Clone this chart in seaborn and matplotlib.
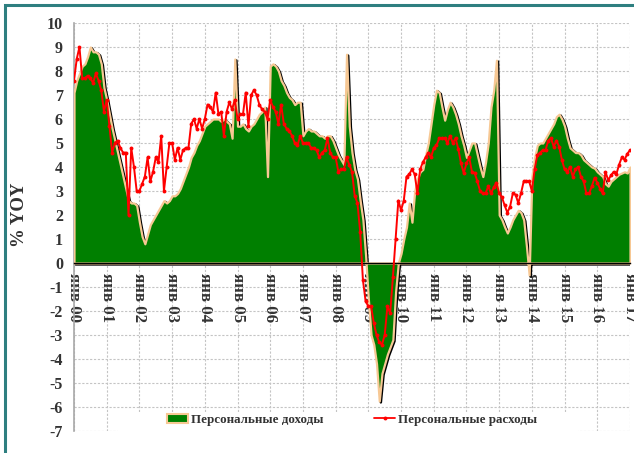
import numpy as np
import pandas as pd
import matplotlib
matplotlib.use("Agg")
import matplotlib.pyplot as plt
import matplotlib.transforms as mtransforms
from matplotlib.patches import Rectangle, Patch
from matplotlib.lines import Line2D
import seaborn as sns

# monthly data, Jan 2000 .. Jan 2017
income = [7.1, 7.6, 7.9, 8.2, 8.3, 8.6, 9.0, 8.8, 8.8, 8.7, 8.3, 7.3,
          6.8, 6.2, 5.6, 5.1, 4.6, 4.1, 3.6, 3.1, 2.6, 2.5, 2.5, 2.4,
          1.7, 1.1, 0.8, 1.2, 1.6, 1.8, 2.0, 2.2, 2.4, 2.6, 2.5, 2.6,
          2.8, 2.8, 2.9, 3.1, 3.4, 3.7, 4.0, 4.4, 4.6, 4.9, 5.1, 5.4,
          5.7, 5.8, 5.9, 6.0, 6.0, 6.0, 5.9, 6.0, 5.9, 5.8, 5.2, 8.5,
          5.7, 5.7, 5.8, 5.6, 5.5, 5.7, 5.8, 6.0, 6.2, 6.3, 6.5, 3.6,
          8.2, 8.3, 8.2, 8.0, 7.6, 7.4, 7.1, 6.9, 6.8, 6.6, 6.7, 6.7,
          5.3, 5.5, 5.6, 5.5, 5.5, 5.4, 5.3, 5.3, 5.2, 5.3, 5.3, 5.1,
          4.8, 4.5, 4.3, 4.1, 8.7, 5.7, 4.6, 3.9, 3.5, 2.6, 1.8, 0.3,
          -1.5, -3.0, -3.4, -4.2, -5.75, -4.6, -4.2, -3.8, -3.5, -3.2, -1.2, 0.0,
          0.4, 1.0, 1.5, 2.5, 1.7, 3.0, 3.5, 3.8, 3.9, 4.5, 5.0, 5.8,
          6.6, 7.2, 7.1, 6.5, 5.95, 6.4, 6.7, 6.5, 6.2, 5.8, 5.3, 4.9,
          4.4, 4.7, 5.0, 5.0, 4.5, 4.0, 3.6, 4.2, 5.0, 6.5, 7.2, 8.45,
          2.0, 1.8, 1.5, 1.25, 1.5, 1.8, 2.0, 2.2, 2.1, 1.8, 0.7, -0.5,
          3.6, 4.4, 4.9, 5.0, 5.0, 5.2, 5.4, 5.6, 5.8, 6.1, 6.2, 6.0,
          5.7, 5.2, 4.8, 4.7, 4.6, 4.6, 4.5, 4.3, 4.2, 4.1, 4.0, 3.95,
          3.8, 3.7, 3.6, 3.3, 3.2, 3.4, 3.5, 3.6, 3.7, 3.75, 3.8, 3.75,
          4.0]

spending = [7.6, 8.5, 9.0, 7.7, 7.7, 7.8, 7.7, 7.5, 7.9, 7.6, 7.2, 6.3,
            6.8, 5.7, 4.6, 5.0, 5.1, 4.8, 4.6, 4.6, 2.0, 4.8, 4.0, 3.0,
            3.0, 3.3, 3.6, 4.4, 3.4, 3.8, 4.4, 4.2, 5.3, 3.0, 4.0, 5.0,
            5.0, 4.3, 4.8, 4.3, 4.7, 4.8, 4.8, 5.8, 6.0, 5.6, 6.0, 5.6,
            6.0, 6.6, 6.5, 6.3, 7.1, 6.2, 6.3, 5.3, 6.3, 6.7, 6.4, 6.8,
            6.0, 6.2, 6.2, 7.1, 5.7, 7.0, 7.2, 7.0, 6.6, 6.4, 6.3, 6.0,
            6.8, 6.5, 6.3, 5.8, 6.6, 5.8, 5.6, 5.5, 5.3, 5.0, 4.9, 5.3,
            5.0, 5.0, 5.0, 4.8, 4.8, 4.7, 4.4, 4.6, 4.7, 5.2, 4.6, 4.4,
            4.4, 3.8, 3.9, 3.9, 4.4, 4.1, 3.8, 2.8, 2.5, 1.3, -0.7, -1.6,
            -1.8, -1.8, -2.5, -3.0, -3.3, -3.4, -3.0, -1.8, -2.1, -0.6, 1.0, 2.6,
            2.2, 2.6, 3.6, 3.7, 3.9, 3.7, 2.9, 3.9, 4.2, 4.4, 4.6, 4.4,
            4.8, 4.9, 5.2, 5.2, 5.2, 5.0, 5.3, 5.0, 5.2, 4.75, 4.15, 3.75,
            4.15, 4.4, 3.8, 3.75, 3.4, 3.0, 2.9, 2.9, 3.2, 2.9, 3.15, 3.35,
            2.9, 2.75, 2.4, 2.1, 2.35, 2.9, 2.85, 2.5, 2.9, 3.4, 3.4, 3.4,
            3.0, 3.9, 4.5, 4.6, 4.7, 4.7, 5.1, 5.2, 4.85, 5.1, 4.85, 4.3,
            3.9, 3.8, 4.0, 3.6, 3.9, 4.0, 3.6, 3.4, 2.9, 2.9, 3.2, 3.55,
            3.35, 3.1, 2.9, 3.8, 3.45, 3.65, 3.8, 3.7, 4.1, 4.4, 4.3, 4.55,
            4.7]

years = ["00", "01", "02", "03", "04", "05", "06", "07", "08",
         "09", "10", "11", "12", "13", "14", "15", "16", "17"]
tick_labels = ["янв " + y for y in years]

df = pd.DataFrame({"month": np.arange(len(income)),
                   "income": income, "spending": spending})

GREEN = "#007f00"
TAN = "#f7c894"
TXT = "#333333"

sns.set_style("white")
plt.rcParams["font.family"] = ["Liberation Serif", "DejaVu Serif"]
plt.rcParams["font.weight"] = "bold"

fig = plt.figure(figsize=(6.34, 4.53), dpi=100)
ax = fig.add_axes([74 / 634, 1 - 431 / 453, 556 / 634, 408 / 453])

# shadow of the income area
shadow = mtransforms.offset_copy(ax.transData, fig=fig, x=1.6, y=-1.4, units="dots")
ax.fill_between(df["month"], df["income"], 0, facecolor="none", edgecolor="black",
                linewidth=1.8, transform=shadow, zorder=2)
ax.fill_between(df["month"], df["income"], 0, facecolor=GREEN, edgecolor=TAN,
                linewidth=1.6, zorder=3)

sns.lineplot(data=df, x="month", y="spending", ax=ax, color="red", linewidth=1.4,
             marker="o", markersize=2.8, markeredgewidth=0, zorder=5, legend=False)

for s in ["top", "right"]:
    ax.spines[s].set_visible(False)
ax.spines["bottom"].set_position(("data", 0))
ax.spines["bottom"].set_color("black")
ax.spines["bottom"].set_linewidth(1.0)
ax.spines["bottom"].set_zorder(4)
ax.spines["left"].set_color("#a8a8a8")
ax.spines["left"].set_linewidth(1.2)

ax.set_xlim(0, 204)
ax.set_ylim(-7, 10)
ax.set_xticks(np.arange(0, 205, 12))
ax.set_xticklabels(tick_labels, rotation=270, fontsize=12.2, fontweight="bold",
                   color=TXT, va="top", ha="center")
ax.set_yticks(np.arange(-7, 11, 1))
ax.set_yticklabels([str(v) for v in range(-7, 11)], fontsize=11.5,
                   fontweight="bold", color=TXT)
ax.set_xlabel("")
ax.set_ylabel("")
ax.tick_params(axis="y", direction="out", length=5, width=1, color="#a8a8a8", pad=3)
ax.tick_params(axis="x", direction="inout", length=5, width=1, color="black", pad=5)

ax.grid(True, color="#c4c4c4", linestyle=(0, (2, 1.5)), linewidth=0.8)
ax.set_axisbelow(True)

# white box behind the legend covering the grid
ax.add_patch(Rectangle((16.2, -7.6), 185 - 16.2, 1.4, facecolor="white",
                       edgecolor="none", zorder=1, clip_on=False))

handles = [Patch(facecolor=GREEN, edgecolor=TAN, linewidth=1.5),
           Line2D([0], [0], color="red", lw=1.3, marker="o", markersize=2.8,
                  markeredgewidth=0)]
ax.legend(handles, ["Персональные доходы", "Персональные расходы"], ncol=2,
          loc="center", bbox_to_anchor=(0.5, 0.027), frameon=False,
          prop={"family": ["Liberation Serif"], "weight": "bold", "size": 9.4},
          labelcolor=TXT, columnspacing=3.9, handlelength=1.6, handletextpad=0.2)

fig.text(0.03, 0.525, "% YOY", rotation=90, ha="center", va="center",
         fontsize=13.5, fontweight="bold", color=TXT)

# frame around the figure
fig.add_artist(Rectangle((5 / 634, -0.05), 1.2, 1 - 5 / 453 + 0.05,
                         transform=fig.transFigure, facecolor="none",
                         edgecolor="#2e7f80", linewidth=2.2))

fig.savefig("out.png", dpi=100)
